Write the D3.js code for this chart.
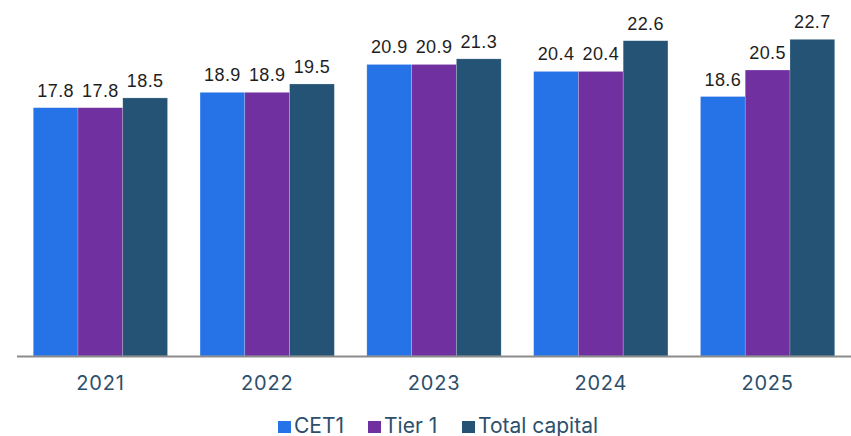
<!DOCTYPE html>
<html>
<head>
<meta charset="utf-8">
<script src="https://cdn.jsdelivr.net/npm/d3@7"></script>
<style>
  body { margin: 0; background: #fff; }
</style>
</head>
<body>
<script>
// data
const years = ["2021", "2022", "2023", "2024", "2025"];
const seriesNames = ["CET1", "Tier 1", "Total capital"];
const cet1 = [17.8, 18.9, 20.9, 20.4, 18.6];
const tier1 = [17.8, 18.9, 20.9, 20.4, 20.5];
const totalCapital = [18.5, 19.5, 21.3, 22.6, 22.7];
const colours = ["#2673e8", "#7030a0", "#255375"];

const W = 851, H = 436;
const margin = {top: 0, right: 0, bottom: 80, left: 17};
const baseline = 356;

const svg = d3.select("body").append("svg")
    .attr("width", W)
    .attr("height", H);

const rows = years.map((y, i) => ({year: y, values: [cet1[i], tier1[i], totalCapital[i]]}));

// scales
const x0 = d3.scaleBand().domain(years).range([margin.left, W]).paddingInner(0.195).paddingOuter(0.0975);
const x1 = d3.scaleBand().domain(d3.range(seriesNames.length)).range([0, x0.bandwidth()]);
const y = d3.scaleLinear().domain([0, 25]).range([baseline, baseline - 25 * 13.95]);

// bars
const groups = svg.selectAll(".grp")
    .data(rows)
    .enter().append("g")
    .attr("transform", d => "translate(" + x0(d.year) + ",0)");

groups.selectAll("rect")
    .data(d => d.values)
    .enter().append("rect")
    .attr("x", (d, i) => x1(i))
    .attr("width", x1.bandwidth())
    .attr("y", d => y(d))
    .attr("height", d => baseline - y(d))
    .attr("fill", (d, i) => colours[i])
    .attr("stroke", "#ffffff")
    .attr("stroke-opacity", 0.35)
    .attr("stroke-width", 0.6);

// value labels
groups.selectAll("text")
    .data(d => d.values)
    .enter().append("text")
    .attr("x", (d, i) => x1(i) + x1.bandwidth() / 2)
    .attr("y", d => y(d) - 11)
    .attr("text-anchor", "middle")
    .style("font-family", "'Liberation Sans', Arial, sans-serif")
    .style("font-size", "18px")
    .style("letter-spacing", "0.4px")
    .style("fill", "#1e1e1e")
    .text(d => d.toFixed(1));

// x axis
const xAxis = svg.append("g")
    .attr("transform", "translate(0," + baseline + ")")
    .call(d3.axisBottom(x0).tickSize(0).tickPadding(20));
xAxis.select(".domain")
    .attr("d", "M" + margin.left + ",0.5H" + W)
    .attr("stroke", "#8c8c8c")
    .attr("stroke-width", 2);
xAxis.selectAll("text")
    .style("font-family", "Inter, 'Noto Sans', sans-serif")
    .style("font-size", "20px")
    .style("letter-spacing", "0.8px")
    .style("fill", "#2d4f6c");

// legend
const legendX = [278, 368, 462];
seriesNames.forEach((name, i) => {
    svg.append("rect")
        .attr("x", legendX[i]).attr("y", 421)
        .attr("width", 13).attr("height", 12)
        .attr("fill", colours[i]);
    svg.append("text")
        .attr("x", legendX[i] + 16).attr("y", 433)
        .style("font-family", "Inter, 'Noto Sans', sans-serif")
        .style("font-size", "21px")
        .style("fill", "#2d4f6c")
        .text(name);
});
</script>
</body>
</html>
